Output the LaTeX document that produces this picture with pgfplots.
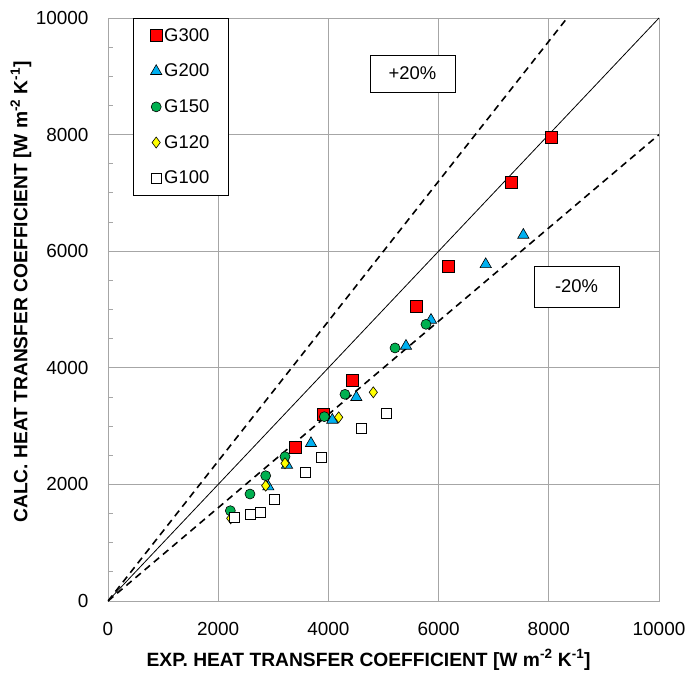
\documentclass[border=0pt]{standalone}
\usepackage{fontspec}
\setmainfont{Liberation Sans}
\usepackage{pgfplots}
\pgfplotsset{compat=1.18}
\definecolor{gblue}{HTML}{00B0F0}
\definecolor{ggreen}{HTML}{00B050}
\definecolor{gyellow}{HTML}{FFFF00}
\definecolor{gridgray}{HTML}{A6A6A6}

\begin{document}
\begin{tikzpicture}
\begin{axis}[
  scale only axis, width=551bp, height=583bp,
  xmin=0, xmax=10000, ymin=0, ymax=10000,
  xtick distance=2000, ytick distance=2000,
  scaled ticks=false,
  minor y tick num=3,
  ytick pos=left, xtick pos=bottom,
  grid=major,
  major grid style={gridgray, line width=0.8bp},
  axis line style={gridgray, line width=0.8bp},
  tick style={gridgray, line width=0.8bp},
  major tick length=0pt, minor tick length=5bp,
  tick align=inside,
  /pgf/number format/assume math mode=true,
  /pgf/number format/1000 sep={},
  tick label style={font=\fontsize{19}{22}\selectfont, text=black},
  xticklabel style={yshift=-18bp},
  yticklabel style={xshift=-16bp},
  xlabel={EXP. HEAT TRANSFER COEFFICIENT [W m\textsuperscript{-2} K\textsuperscript{-1}]},
  ylabel={CALC. HEAT TRANSFER COEFFICIENT [W m\textsuperscript{-2} K\textsuperscript{-1}]},
  label style={font=\bfseries\fontsize{19.3}{22}\selectfont},
  xlabel style={at={(axis description cs:0.473,-0.1115)}, anchor=base},
  ylabel style={at={(axis description cs:-0.158,0.53)}, anchor=center},
  legend style={at={(axis description cs:0.045,1.0)}, anchor=north west,
    draw=black, line width=0.8bp, fill=white,
    font=\fontsize{18.5}{21}\selectfont,
    inner xsep=17bp, inner ysep=8bp, row sep=17.3bp},
  legend cell align=left,
  every axis plot/.append style={line width=0.6bp},
]
% parity line and +/-20 % bands
\addplot[black, line width=0.8bp, forget plot] coordinates {(0,0) (10000,10000)};
\addplot[black, line width=1.6bp, dash pattern=on 7bp off 5bp, forget plot] coordinates {(0,0) (8333,10000)};
\addplot[black, line width=1.6bp, dash pattern=on 7bp off 5bp, forget plot] coordinates {(0,0) (10000,8000)};

\addplot[only marks, mark=square*, mark size=6bp, draw=black, fill=red] coordinates {
  (3406,2641) (3908,3202) (4441,3779) (5590,5048) (6176,5734) (7320,7187) (8046,7954)};
\addlegendentry{G300}
\addplot[only marks, mark=triangle*, mark size=6.5bp, draw=black, fill=gblue] coordinates {
  (2910,1961) (3249,2333) (3684,2705) (4071,3105) (4507,3494) (5408,4374) (5862,4820) (6855,5775) (7538,6278)};
\addlegendentry{G200}
\addplot[only marks, mark=*, mark size=5bp, draw=black, fill=ggreen] coordinates {
  (2220,1549) (2577,1835) (2862,2149) (3212,2476) (3926,3162) (4301,3545) (5209,4340) (5771,4746)};
\addlegendentry{G150}
\addplot[only marks, mark=diamond*, mark size=5.5bp, draw=black, fill=gyellow] coordinates {
  (2227,1418) (2862,1978) (3212,2362) (4187,3151) (4815,3580)};
\addlegendentry{G120}
\addplot[only marks, mark=square*, mark size=5bp, draw=black, fill=white] coordinates {
  (2299,1429) (2583,1487) (2759,1515) (3025,1744) (3575,2213) (3866,2459) (4598,2962) (5045,3219)};
\addlegendentry{G100}

\node[draw=black, line width=0.8bp, fill=white, minimum width=85bp, minimum height=37bp,
  font=\fontsize{18.5}{21}\selectfont] at (axis cs:5526,9048) {+20\%};
\node[draw=black, line width=0.8bp, fill=white, minimum width=85bp, minimum height=41bp,
  font=\fontsize{18.5}{21}\selectfont] at (axis cs:8503,5394) {-20\%};
\end{axis}
\pgfresetboundingbox
\path ([shift={(-108bp,-72bp)}]current axis.south west) rectangle ([shift={(30bp,18bp)}]current axis.north east);
\end{tikzpicture}
\end{document}
